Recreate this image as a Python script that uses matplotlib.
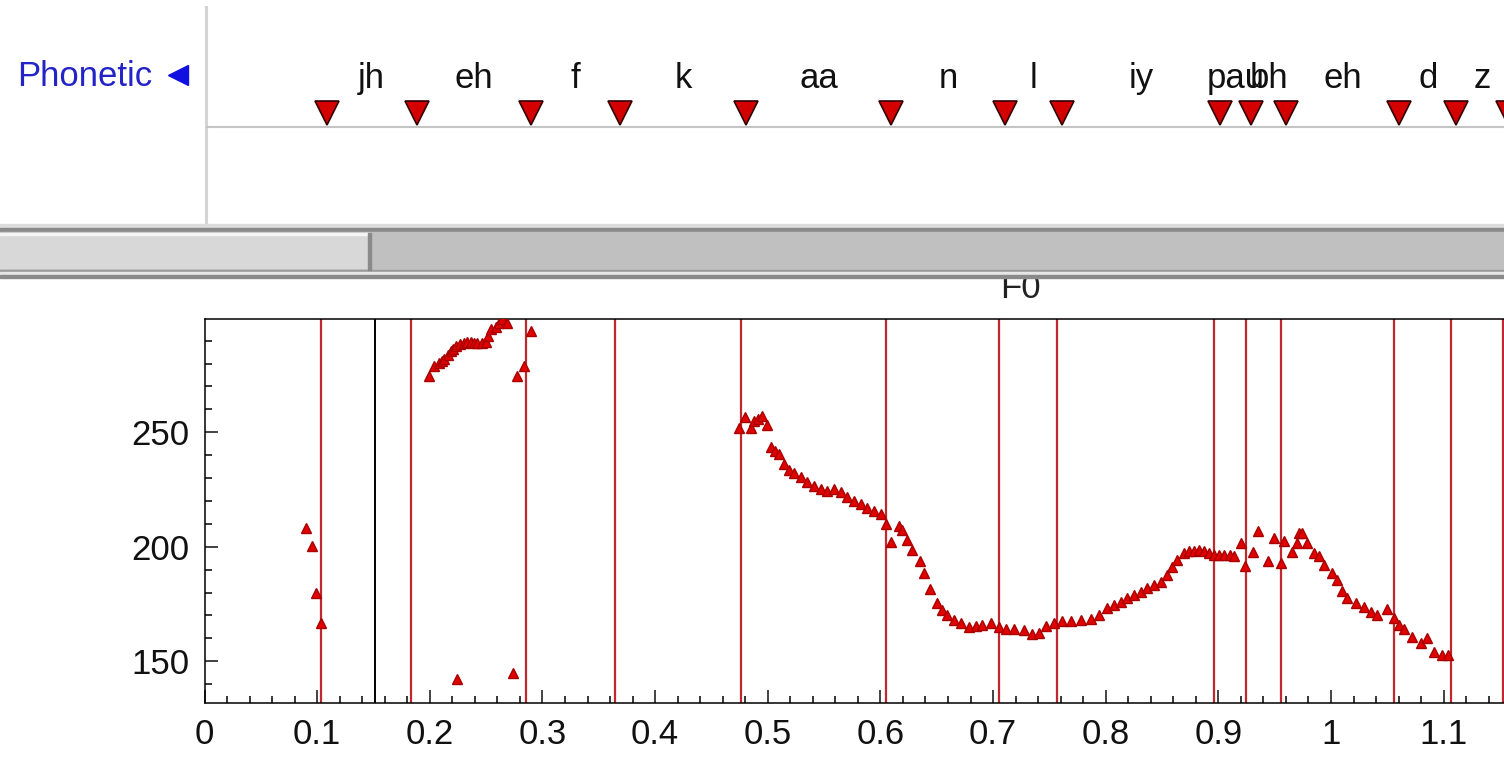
import matplotlib
matplotlib.use("Agg")
import matplotlib.pyplot as plt
from matplotlib.patches import Rectangle
from matplotlib.ticker import MultipleLocator, FuncFormatter

plt.rcParams['font.family'] = ['Liberation Sans', 'DejaVu Sans']

W, H = 1504, 760

# phone boundaries (seconds) and the labels of the segments between them
bounds = [0.1037, 0.1836, 0.2851, 0.3641, 0.4760, 0.6049, 0.7055, 0.7564,
          0.8963, 0.9245, 0.9553, 1.0559, 1.1064, 1.1524]
phones = ['jh', 'eh', 'f', 'k', 'aa', 'n', 'l', 'iy', 'pau', 'bh', 'eh', 'd', 'z']
cursor_t = 0.1517

# F0 track (s, Hz)
f0_t_a = [0.0898, 0.0951, 0.0987, 0.1031]
f0_v_a = [208.0, 200.4, 179.7, 166.6]

f0_t_b = [0.1992, 0.2037, 0.2081, 0.2105, 0.2126, 0.2160, 0.2185, 0.2210, 0.2230,
          0.2270, 0.2303, 0.2333, 0.2363, 0.2392, 0.2422, 0.2460, 0.2496, 0.2520,
          0.2540, 0.2585, 0.2615, 0.2644, 0.2688, 0.2777, 0.2836, 0.2895, 0.2238,
          0.2742]
f0_v_b = [274.5, 278.9, 280.1, 281.0, 281.8, 283.5, 285.6, 286.5, 287.5,
          288.5, 288.8, 289.2, 289.5, 289.0, 289.1, 289.0, 289.5, 292.0,
          294.9, 296.1, 297.5, 299.3, 297.6, 274.5, 278.9, 294.3, 142.1,
          145.0]

f0_t_c = [0.4744, 0.4795, 0.4848, 0.4877, 0.4913, 0.4952, 0.4996, 0.5026, 0.5060,
          0.5099, 0.5144, 0.5190, 0.5233, 0.5292, 0.5352, 0.5410, 0.5470, 0.5529,
          0.5588, 0.5647, 0.5707, 0.5765, 0.5824, 0.5884, 0.5943, 0.6002, 0.6047,
          0.6091, 0.6165, 0.6195, 0.6240, 0.6284, 0.6351, 0.6387, 0.6440, 0.6505,
          0.6550, 0.6594, 0.6653, 0.6712, 0.6786, 0.6845, 0.6905, 0.6978, 0.7052,
          0.7112, 0.7185, 0.7274, 0.7349, 0.7407, 0.7467, 0.7541, 0.7615, 0.7689,
          0.7778, 0.7866, 0.7940, 0.8015, 0.8075, 0.8133, 0.8190, 0.8251, 0.8310,
          0.8370, 0.8430, 0.8488, 0.8547, 0.8591, 0.8636, 0.8694, 0.8740, 0.8783,
          0.8830, 0.8872, 0.8920, 0.8961, 0.9010, 0.9050, 0.9100, 0.9139, 0.9198,
          0.9233, 0.9311, 0.9351, 0.9440, 0.9493, 0.9553, 0.9582, 0.9657, 0.9701,
          0.9715, 0.9745, 0.9789, 0.9849, 0.9893, 0.9937, 1.0012, 1.0056, 1.0101,
          1.0145, 1.0219, 1.0293, 1.0352, 1.0412, 1.0494, 1.0559, 1.0603, 1.0648,
          1.0722, 1.0796, 1.0849, 1.0914, 1.0988, 1.1036]
f0_v_c = [251.7, 256.8, 251.7, 255.0, 255.6, 257.0, 253.1, 243.6, 242.0,
          240.5, 236.1, 233.5, 232.0, 230.3, 228.3, 226.5, 225.4, 224.4,
          225.0, 223.9, 221.8, 220.0, 218.6, 217.1, 215.6, 214.5, 210.1,
          202.1, 209.0, 207.3, 202.9, 198.5, 193.9, 188.6, 181.4, 175.3,
          172.4, 170.2, 168.0, 166.5, 165.1, 165.4, 165.8, 166.8, 165.1,
          163.9, 163.9, 163.6, 161.8, 162.4, 165.4, 166.5, 167.6, 167.6,
          167.9, 168.6, 170.2, 173.1, 174.5, 176.0, 177.5, 178.9, 180.4,
          181.9, 183.3, 184.8, 187.7, 191.3, 194.3, 197.2, 198.0, 198.3,
          198.6, 198.3, 197.3, 196.4, 196.5, 196.4, 196.2, 196.0, 201.5,
          191.6, 197.9, 207.0, 193.9, 203.7, 192.8, 202.3, 197.9, 201.7,
          205.9, 206.1, 201.5, 197.1, 196.0, 192.0, 188.4, 185.5, 180.8,
          177.5, 175.4, 173.9, 171.7, 170.2, 172.7, 168.8, 165.9, 164.0,
          160.7, 157.9, 160.0, 154.2, 152.7, 152.6]

FS = 25
LINE_RED = '#c0282d'


def px_axes(fig, left, top, right, bottom, **kw):
    return fig.add_axes([left / W, 1 - bottom / H, (right - left) / W, (bottom - top) / H], **kw)


fig = plt.figure(figsize=(W / 100, H / 100), dpi=100)
fig.patch.set_facecolor('white')

# window chrome drawn in pixel coordinates
canvas = fig.add_axes([0, 0, 1, 1])
canvas.set_xlim(0, W)
canvas.set_ylim(H, 0)
canvas.axis('off')

canvas.plot([206, 206], [7, 225], color='#d4d4d4', lw=2.2)
canvas.plot([207, W], [126.5, 126.5], color='#c4c4c4', lw=1.5)
canvas.text(17, 86, 'Phonetic', color='#2323c8', fontsize=FS, va='baseline')
canvas.plot(178, 75, marker='<', ms=14, color='#1010e0', mec='#1010e0')

canvas.text(1020, 298, 'F0', fontsize=FS, ha='center', va='baseline', color='#222222', zorder=1)

# scrollbar
canvas.add_patch(Rectangle((0, 224), W, 4, color='#dcdcdc', zorder=3))
canvas.add_patch(Rectangle((0, 228), W, 4, color='#8a8a8a', zorder=3))
canvas.add_patch(Rectangle((0, 232), W, 38, color='#c0c0c0', zorder=3))
canvas.add_patch(Rectangle((0, 233), 369, 35, color='#d8d8d8', zorder=4))
canvas.add_patch(Rectangle((0, 233), 369, 2, color='#f4f4f4', zorder=4))
canvas.add_patch(Rectangle((368, 233), 3, 37, color='#8a8a8a', zorder=4))
canvas.add_patch(Rectangle((0, 270), W, 2, color='#9a9a9a', zorder=3))
canvas.add_patch(Rectangle((0, 272), W, 3, color='#e6e6e6', zorder=3))
canvas.add_patch(Rectangle((0, 275), W, 3, color='#8a8a8a', zorder=3))

# phonetic tier
tier = px_axes(fig, 207, 0, W, 225)
tier.set_facecolor('none')
tier.axis('off')
tier.set_xlim((207 - 209.85) / 1126.5, (W - 209.85) / 1126.5)
tier.set_ylim(225, 0)
tier.plot(bounds, [112.5] * len(bounds), linestyle='none', marker='v', ms=17,
          mfc='#d40000', mec='#300000', mew=1.2)
for i, ph in enumerate(phones):
    mid = (bounds[i] + bounds[i + 1]) / 2
    tier.text(mid, 88, ph, fontsize=FS, ha='center', va='baseline', color='#111111')

# F0 panel
ax = px_axes(fig, 204.5, 319.3, 1510, 702.7)
ax.set_xlim(0, (1510 - 204.5) / 1126.5)
ax.set_ylim(131.9, 299.3)
for b in bounds:
    ax.axvline(b, color=LINE_RED, lw=1.6)
ax.axvline(cursor_t, color='black', lw=1.4)

for ts, vs in [(f0_t_a, f0_v_a), (f0_t_b, f0_v_b), (f0_t_c, f0_v_c)]:
    ax.plot(ts, vs, linestyle='none', marker='^', ms=7,
            mfc='#e00000', mec='#a80000', mew=1.0, zorder=5)

ax.xaxis.set_major_locator(MultipleLocator(0.1))
ax.xaxis.set_minor_locator(MultipleLocator(0.02))
ax.yaxis.set_major_locator(MultipleLocator(50))
ax.yaxis.set_minor_locator(MultipleLocator(10))
ax.xaxis.set_major_formatter(FuncFormatter(lambda x, p: '%g' % round(x, 2)))
ax.tick_params(which='major', direction='in', length=9.4, width=1.1,
               labelsize=FS, pad=11, colors='#111111')
ax.tick_params(which='minor', direction='in', length=4.7, width=1.1)
for s in ax.spines.values():
    s.set_linewidth(1.1)

fig.savefig('out.png', dpi=100, facecolor='white')
